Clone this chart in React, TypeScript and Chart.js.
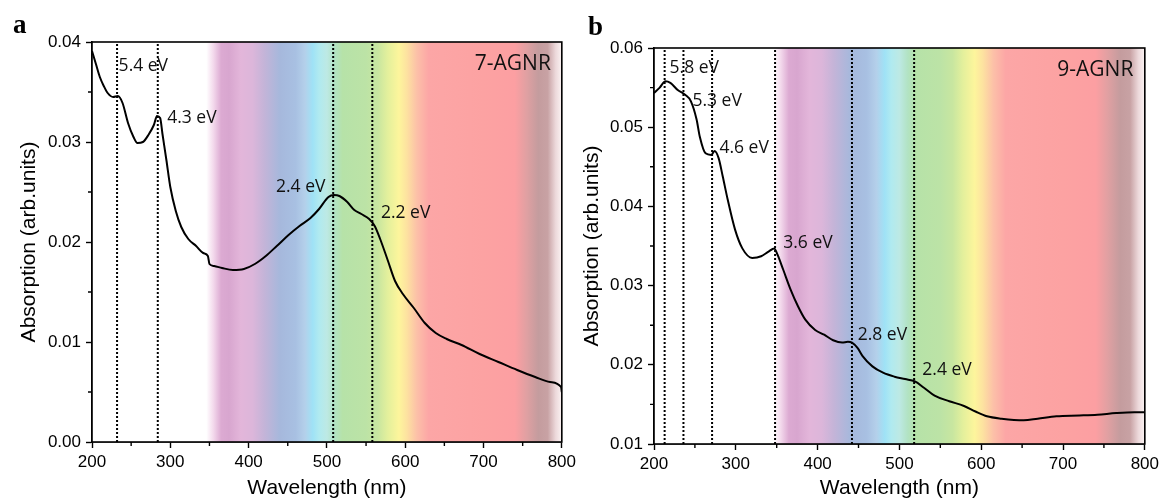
import React, { useEffect, useRef } from "react";
import { Chart, registerables } from "chart.js";

Chart.register(...registerables);

// ---------- Data ----------
const wavelengthA = [200, 205, 210, 215, 220, 227, 233, 239, 246, 253, 258, 265, 272, 279, 283, 287, 290, 295, 300, 307, 314, 323, 333, 342, 348, 350, 356, 366, 380, 394, 408, 422, 436, 451, 465, 479, 490, 502, 509, 516, 526, 535, 544, 554, 561, 568, 578, 587, 597, 611, 625, 639, 653, 672, 695, 719, 743, 766, 785, 799, 800];
const absorptionA = [0.0391, 0.0378, 0.0365, 0.0356, 0.0349, 0.0345, 0.0346, 0.0339, 0.0319, 0.0305, 0.0299, 0.0300, 0.0307, 0.0317, 0.0326, 0.0324, 0.0308, 0.0282, 0.0255, 0.0231, 0.0215, 0.0203, 0.0196, 0.0189, 0.0186, 0.0178, 0.0176, 0.0174, 0.0172, 0.0173, 0.0178, 0.0186, 0.0196, 0.0207, 0.0216, 0.0224, 0.0233, 0.0245, 0.0247, 0.0246, 0.0240, 0.0232, 0.0228, 0.0223, 0.0216, 0.0203, 0.0181, 0.0161, 0.0148, 0.0134, 0.0119, 0.0109, 0.0103, 0.0097, 0.0088, 0.0080, 0.0072, 0.0065, 0.0060, 0.0055, 0.0050];

const wavelengthB = [200, 207, 214, 220, 229, 238, 245, 252, 256, 263, 270, 274, 279, 284, 290, 299, 308, 320, 331, 340, 347, 351, 358, 367, 376, 385, 397, 408, 419, 430, 437, 442, 449, 455, 467, 480, 494, 507, 519, 530, 543, 561, 579, 593, 607, 625, 652, 669, 692, 720, 742, 765, 787, 800];
const absorptionB = [0.0543, 0.0550, 0.0558, 0.0556, 0.0547, 0.0541, 0.0533, 0.0510, 0.0488, 0.0467, 0.0465, 0.0470, 0.0461, 0.0438, 0.0409, 0.0371, 0.0347, 0.0335, 0.0337, 0.0343, 0.0347, 0.0339, 0.0320, 0.0295, 0.0274, 0.0257, 0.0244, 0.0238, 0.0231, 0.0228, 0.0229, 0.0228, 0.0221, 0.0211, 0.0198, 0.0190, 0.0185, 0.0182, 0.0179, 0.0171, 0.0161, 0.0154, 0.0148, 0.0141, 0.0135, 0.0132, 0.0130, 0.0132, 0.0135, 0.0136, 0.0137, 0.0139, 0.0140, 0.0140];

const peaksA = [232, 284, 508, 558];
const peakLabelsA = ["5.4 eV", "4.3 eV", "2.4 eV", "2.2 eV"];
const labelXA = [234, 296, 435, 569];
const labelYA = [0.0376, 0.0324, 0.0255, 0.0229];

const peaksB = [213, 236, 271, 348, 442, 518];
const peakLabelsB = ["5.8 eV", "5.3 eV", "4.6 eV", "3.6 eV", "2.8 eV", "2.4 eV"];
const labelXB = [219, 247, 280, 358, 449, 528];
const labelYB = [0.0575, 0.0533, 0.0474, 0.0354, 0.0238, 0.0194];

const xTickValues = [200, 300, 400, 500, 600, 700, 800];
const yTickValuesA = [0, 0.01, 0.02, 0.03, 0.04];
const yTickValuesB = [0.01, 0.02, 0.03, 0.04, 0.05, 0.06];

const spectrumNm = [200, 346, 355, 365, 375, 390, 405, 420, 440, 460, 472, 482, 490, 500, 510, 520, 550, 565, 578, 592, 602, 615, 630, 700, 740, 755, 770, 782, 792, 800];
const spectrumColors = ["#ffffff", "#ffffff", "#f3d9ec", "#dcaad2", "#d8a6cf", "#e3b6da", "#dcb6da", "#c4b4d8", "#a6b8dc", "#a8c0e2", "#b4d0ea", "#9fe2f6", "#b0eaf0", "#bde9e4", "#b2e3c4", "#b6e2a8", "#bce3a6", "#c8e6a0", "#e4f09c", "#fdf59c", "#fde2a0", "#fcc0a8", "#fca6a6", "#fca2a2", "#fc9fa2", "#e0a0a2", "#c49c9e", "#c8a2a4", "#ecd8da", "#fbf3f3"];

// ---------- Chart builder ----------
type PanelSpec = {
  letter: string;
  name: string;
  wl: number[];
  ab: number[];
  peaks: number[];
  labels: string[];
  lx: number[];
  ly: number[];
  yMin: number;
  yMax: number;
  yTicks: number[];
  padTop: number;
  padRight: number;
  yWidth: number;
  xHeight: number;
  yTitlePad: number;
  letterX: number;
  letterY: number;
};

const TICK_FONT = "Liberation Sans";
const LABEL_FONT = "Open Sans";

function buildConfig(p: PanelSpec): any {
  const curve = p.wl.map((x, i) => ({ x, y: p.ab[i] }));
  const dotted = p.peaks.map((x) => ({
    data: [
      { x, y: p.yMin },
      { x, y: p.yMax },
    ],
    borderColor: "#000",
    borderWidth: 2,
    borderDash: [2, 2],
    pointRadius: 0,
    tension: 0,
  }));

  const panelPlugin = {
    id: "panelDecor" + p.letter,
    beforeDatasetsDraw(chart: any) {
      const { ctx, chartArea } = chart;
      const xs = chart.scales.x;
      const x0 = xs.getPixelForValue(200);
      const x1 = xs.getPixelForValue(800);
      const g = ctx.createLinearGradient(x0, 0, x1, 0);
      spectrumNm.forEach((nm, i) => {
        g.addColorStop((nm - 200) / 600, spectrumColors[i]);
      });
      ctx.save();
      ctx.fillStyle = g;
      ctx.fillRect(chartArea.left, chartArea.top, chartArea.right - chartArea.left, chartArea.bottom - chartArea.top);
      ctx.restore();
    },
    afterDatasetsDraw(chart: any) {
      const { ctx, chartArea } = chart;
      const xs = chart.scales.x;
      const ys = chart.scales.y;
      ctx.save();
      // peak labels
      ctx.fillStyle = "#111";
      ctx.font = `17.5px "${LABEL_FONT}"`;
      ctx.textAlign = "left";
      ctx.textBaseline = "middle";
      p.labels.forEach((t, i) => {
        ctx.fillText(t, xs.getPixelForValue(p.lx[i]), ys.getPixelForValue(p.ly[i]));
      });
      // sample name
      ctx.font = `21px "${LABEL_FONT}"`;
      ctx.textAlign = "right";
      ctx.fillText(p.name, xs.getPixelForValue(786), ys.getPixelForValue(p.yMax - (p.yMax - p.yMin) * 0.055));
      // frame
      ctx.strokeStyle = "#000";
      ctx.lineWidth = 1.6;
      ctx.strokeRect(chartArea.left, chartArea.top, chartArea.right - chartArea.left, chartArea.bottom - chartArea.top);
      // minor ticks
      ctx.lineWidth = 1.4;
      ctx.beginPath();
      for (let v = 250; v < 800; v += 100) {
        const px = xs.getPixelForValue(v);
        ctx.moveTo(px, chartArea.bottom);
        ctx.lineTo(px, chartArea.bottom + 4);
      }
      for (let k = 0; k < p.yTicks.length - 1; k++) {
        const v = (p.yTicks[k] + p.yTicks[k + 1]) / 2;
        const py = ys.getPixelForValue(v);
        ctx.moveTo(chartArea.left, py);
        ctx.lineTo(chartArea.left - 4, py);
      }
      ctx.stroke();
      // panel letter
      ctx.fillStyle = "#000";
      ctx.font = `bold 27px "Liberation Serif"`;
      ctx.textAlign = "left";
      ctx.textBaseline = "alphabetic";
      ctx.fillText(p.letter, p.letterX, p.letterY);
      ctx.restore();
    },
  };

  return {
    type: "line",
    data: {
      datasets: [
        ...dotted,
        {
          data: curve,
          borderColor: "#000",
          borderWidth: 2,
          pointRadius: 0,
          tension: 0.35,
          cubicInterpolationMode: "monotone",
        },
      ],
    },
    options: {
      animation: false,
      responsive: false,
      devicePixelRatio: 1,
      layout: { padding: { top: p.padTop, right: p.padRight, left: 0, bottom: 0 } },
      plugins: { legend: { display: false }, tooltip: { enabled: false }, title: { display: false } },
      scales: {
        x: {
          type: "linear",
          min: 200,
          max: 800,
          afterBuildTicks: (s: any) => {
            s.ticks = xTickValues.map((v) => ({ value: v }));
          },
          ticks: { font: { family: TICK_FONT, size: 17 }, color: "#000", padding: 4, maxRotation: 0, autoSkip: false },
          grid: { drawOnChartArea: false, color: "#000", tickLength: 6, tickWidth: 1.4 },
          border: { color: "#000", width: 1.6 },
          title: { display: true, text: "Wavelength (nm)", font: { family: TICK_FONT, size: 21 }, color: "#000", padding: { top: 0, bottom: 0 } },
          afterFit: (s: any) => {
            s.height = p.xHeight;
          },
        },
        y: {
          type: "linear",
          min: p.yMin,
          max: p.yMax,
          afterBuildTicks: (s: any) => {
            s.ticks = p.yTicks.map((v) => ({ value: v }));
          },
          ticks: {
            font: { family: TICK_FONT, size: 17 },
            color: "#000",
            padding: 5,
            autoSkip: false,
            callback: (v: any) => Number(v).toFixed(2),
          },
          grid: { drawOnChartArea: false, color: "#000", tickLength: 6, tickWidth: 1.4 },
          border: { color: "#000", width: 1.6 },
          title: { display: true, text: "Absorption (arb.units)", font: { family: TICK_FONT, size: 21 }, color: "#000", padding: { top: p.yTitlePad, bottom: 0 } },
          afterFit: (s: any) => {
            s.width = p.yWidth;
          },
        },
      },
    },
    plugins: [panelPlugin],
  };
}

const panelA: PanelSpec = {
  letter: "a",
  name: "7-AGNR",
  wl: wavelengthA,
  ab: absorptionA,
  peaks: peaksA,
  labels: peakLabelsA,
  lx: labelXA,
  ly: labelYA,
  yMin: 0,
  yMax: 0.04,
  yTicks: yTickValuesA,
  padTop: 42,
  padRight: 17,
  yWidth: 92,
  xHeight: 59,
  yTitlePad: 17,
  letterX: 13,
  letterY: 33,
};

const panelB: PanelSpec = {
  letter: "b",
  name: "9-AGNR",
  wl: wavelengthB,
  ab: absorptionB,
  peaks: peaksB,
  labels: peakLabelsB,
  lx: labelXB,
  ly: labelYB,
  yMin: 0.01,
  yMax: 0.06,
  yTicks: yTickValuesB,
  padTop: 48,
  padRight: 15,
  yWidth: 74,
  xHeight: 57,
  yTitlePad: 0,
  letterX: 8,
  letterY: 35,
};

function Panel({ spec, left, width }: { spec: PanelSpec; left: number; width: number }) {
  const ref = useRef<HTMLCanvasElement | null>(null);
  useEffect(() => {
    if (!ref.current) return;
    const chart = new Chart(ref.current, buildConfig(spec));
    return () => chart.destroy();
  }, [spec]);
  return (
    <canvas
      ref={ref}
      width={width}
      height={501}
      style={{ position: "absolute", left, top: 0, width, height: 501 }}
    />
  );
}

export default function App() {
  return (
    <div style={{ position: "absolute", left: 0, top: 0, width: 1163, height: 501, background: "#fff", overflow: "hidden" }}>
      <Panel spec={panelA} left={0} width={580} />
      <Panel spec={panelB} left={580} width={583} />
    </div>
  );
}
